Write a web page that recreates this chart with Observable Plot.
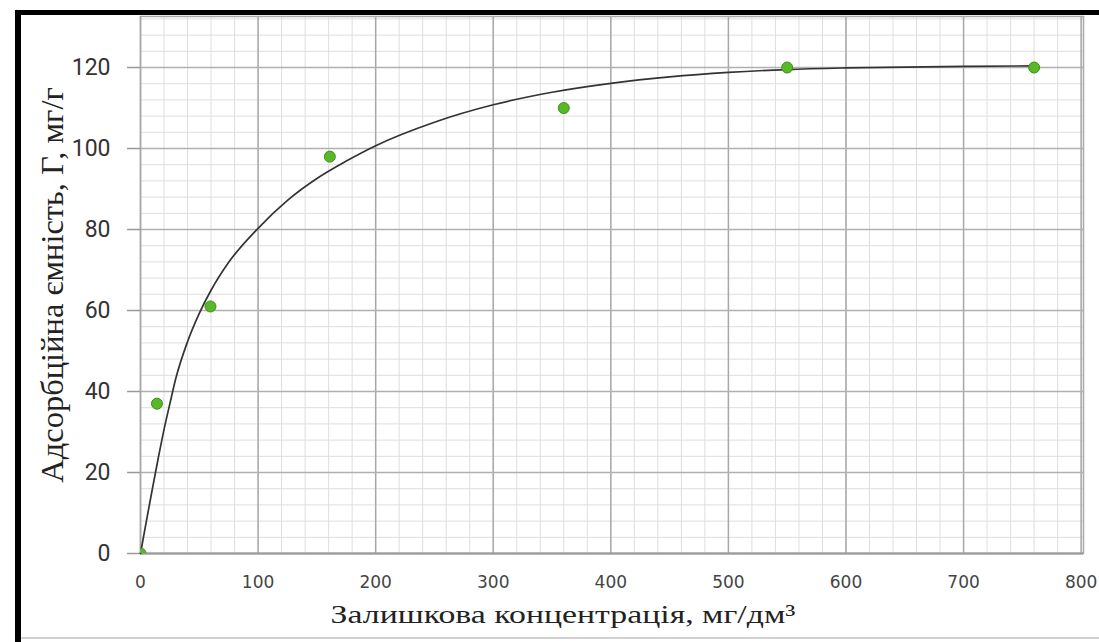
<!DOCTYPE html>
<html>
<head>
<meta charset="utf-8">
<script src="https://cdn.jsdelivr.net/npm/d3@7"></script>
<script src="https://cdn.jsdelivr.net/npm/@observablehq/plot@0.6"></script>
<style>
  html, body { margin: 0; padding: 0; background: #fff; }
  #wrap { position: relative; width: 1099px; height: 642px; overflow: hidden; }
  #wrap svg { position: absolute; left: 0; top: 0; }
  .bl { position: absolute; background: #000; }
</style>
</head>
<body>
<div id="wrap">
  <div id="chart"></div>
  <div class="bl" style="left:15px; top:10px; width:1084px; height:5px;"></div>
  <div class="bl" style="left:15px; top:10px; width:6px; height:632px;"></div>
  <div style="position:absolute; left:21px; top:637px; width:1078px; height:2px; background:#d0d0d0;"></div>
</div>
<script>
// Observed points: residual concentration (mg/dm3) vs adsorption capacity (mg/g)
const concentration = [0, 14, 59.5, 161, 360, 550, 760];
const capacity      = [0, 37, 61, 98, 110, 120, 120];

// Fitted curve
const curveX = [0, 5, 10, 15, 20, 25, 30, 40, 50, 60, 75, 100, 125, 150, 175, 200, 250, 300, 350, 400, 450, 500, 550, 600, 700, 760];
const curveY = [0, 8, 15.8, 23.4, 30.6, 37, 43.2, 52.3, 59.3, 65, 71.9, 80.3, 87.2, 92.6, 96.9, 100.7, 106.5, 110.8, 113.9, 116.1, 117.7, 118.8, 119.5, 119.9, 120.3, 120.4];

const xTicks = [0, 100, 200, 300, 400, 500, 600, 700, 800];
const yTicks = [0, 20, 40, 60, 80, 100, 120];
const yTickLabels = ["0", "20", "40", "60", "80", "100", "120"];

const xTitle = "Залишкова концентрація, мг/дм³";
const yTitle = "Адсорбційна ємність, Г, мг/г";

const points = concentration.map((c, i) => ({c, g: capacity[i]}));
const curve = curveX.map((c, i) => ({c, g: curveY[i]}));
const xMinor = d3.range(0, 802, 20);
const yMinor = d3.range(0, 133, 4);

const chart = Plot.plot({
  width: 1099,
  height: 642,
  marginLeft: 140,
  marginRight: 16,
  marginTop: 16,
  marginBottom: 89,
  x: {domain: [0, 802], axis: null},
  y: {domain: [0, 132.6], axis: null},
  style: {background: "transparent", overflow: "visible"},
  marks: [
    Plot.ruleX(xMinor, {x: d => d, stroke: "#dedede", strokeWidth: 1}),
    Plot.ruleY(yMinor, {y: d => d, stroke: "#dedede", strokeWidth: 1}),
    Plot.ruleX(xTicks, {x: d => d, stroke: "#a8a8a8", strokeWidth: 1.5}),
    Plot.ruleY(yTicks, {y: d => d, stroke: "#b0b0b0", strokeWidth: 1.5}),
    Plot.frame({stroke: "#a8a8a8", strokeWidth: 1.5}),
    Plot.ruleY([0], {stroke: "#9a9a9a", strokeWidth: 2}),
    Plot.ruleY(yTicks, {y: d => d, x1: -11, x2: 0, stroke: "#999", strokeWidth: 1.5}),
    Plot.line(curve, {x: "c", y: "g", curve: "monotone-x", stroke: "#333", strokeWidth: 1.7}),
    Plot.dot(points, {x: "c", y: "g", r: 5.5, fill: "#5ab828", stroke: "#3c8e16", strokeWidth: 1, clip: true}),
    Plot.text(xTicks, {x: d => d, y: 0, dy: 29, text: d => String(d), fontFamily: "DejaVu Sans", fontSize: 17, fill: "#444", letterSpacing: 2}),
    Plot.text(yTicks, {x: 0, y: d => d, dx: -30, text: (d, i) => yTickLabels[i], textAnchor: "end", fontFamily: "Roboto", fontSize: 23, fill: "#333"}),
    Plot.text([xTitle], {frameAnchor: "bottom", dx: -49, dy: 61, text: d => d, textAnchor: "middle", lineAnchor: "middle", fontFamily: "Liberation Serif", fontSize: 26, fill: "#222"}),
    Plot.text([yTitle], {frameAnchor: "left", dx: -88, dy: 0, rotate: -90, text: d => d, textAnchor: "middle", lineAnchor: "middle", fontFamily: "Liberation Serif", fontSize: 32.5, fill: "#222"})
  ]
});
document.getElementById("chart").appendChild(chart);

// horizontally stretch the x-axis title like in the reference
const xt = Array.from(chart.querySelectorAll("text")).find(t => t.textContent === xTitle);
if (xt) {
  const tr = xt.getAttribute("transform");
  if (tr) {
    xt.setAttribute("transform", tr + " scale(1.3,1)");
  } else {
    const x = +(xt.getAttribute("x") || 0), y = +(xt.getAttribute("y") || 0);
    xt.removeAttribute("x"); xt.removeAttribute("y");
    xt.setAttribute("transform", `translate(${x},${y}) scale(1.3,1)`);
  }
}
</script>
</body>
</html>
